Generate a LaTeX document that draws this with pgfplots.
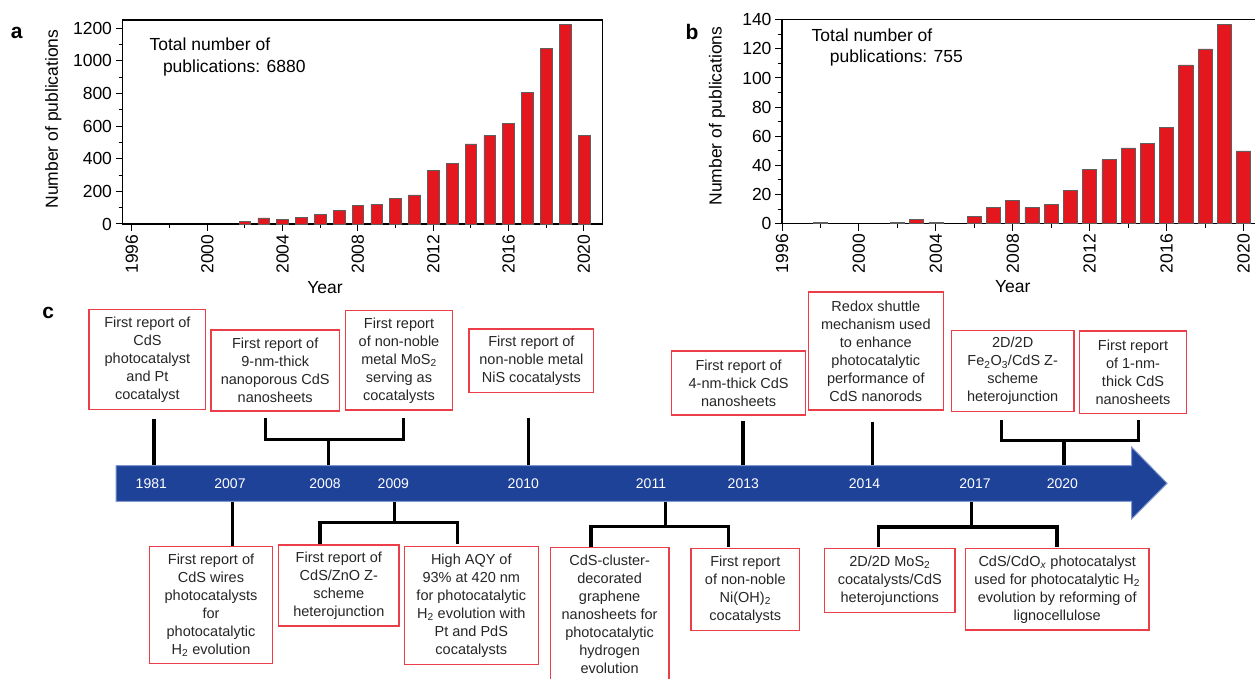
\documentclass[border=0pt]{standalone}
\usepackage{pgfplots}
\pgfplotsset{compat=1.18}
\usepackage{fontspec}
\setmainfont{Liberation Sans}

\definecolor{barred}{RGB}{228,22,30}
\definecolor{baredge}{RGB}{95,95,95}
\definecolor{arrowblue}{RGB}{30,66,152}
\definecolor{arrowedge}{RGB}{125,150,205}
\definecolor{boxred}{RGB}{236,62,72}

\newcommand\tkf{\fontsize{17.5}{20}\selectfont}
\newcommand\bxf{\fontsize{14.5}{18}\selectfont}
\newcommand\yrf{\fontsize{14}{16}\selectfont}
\newcommand\plf{\fontsize{21}{24}\selectfont\bfseries}

\pgfplotsset{
  pubaxis/.style={
    scale only axis,
    ymin=0,
    xtick={1996,2000,...,2020}, minor x tick num=1,
    minor y tick num=1,
    tick pos=left, tick align=outside,
    major tick length=7pt, minor tick length=4pt,
    every tick/.style={black, line width=1pt},
    ticklabel style={font=\tkf},
    xticklabel style={rotate=90, anchor=east},
    /pgf/number format/1000 sep={},
    /pgf/number format/assume math mode=true,
    axis line style={line width=1.2pt, black},
    clip=false,
  },
  pubbars/.style={ybar, bar shift=0pt, fill=barred, draw=baredge, line width=0.6pt},
}

\begin{document}
\begin{tikzpicture}
\path[use as bounding box] (0,0) rectangle (1255pt,678pt);

% ---------------- panel a ----------------
\begin{axis}[pubaxis,
  at={(122.5pt,658pt)}, anchor=north west, width=480.3pt, height=204pt,
  xmin=1995.5, xmax=2021, ymax=1250,
  ytick={0,200,...,1200}]
\addplot[pubbars, bar width=0.62] coordinates {
 (2002,18) (2003,37) (2004,27) (2005,41) (2006,61) (2007,82) (2008,115)
 (2009,121) (2010,156) (2011,178) (2012,330) (2013,373) (2014,491)
 (2015,543) (2016,618) (2017,807) (2018,1077) (2019,1225) (2020,545)};
\end{axis}

% ---------------- panel b ----------------
\begin{axis}[pubaxis,
  at={(782pt,658.3pt)}, anchor=north west, width=473pt, height=204pt,
  axis x line*=bottom, axis y line*=left,
  xmin=1996, xmax=2020.6, ymax=140,
  ytick={0,20,...,140}]
\addplot[pubbars, bar width=0.73] coordinates {
 (1998,1) (2002,1) (2003,3) (2004,1) (2006,5) (2007,11) (2008,16)
 (2009,11) (2010,13) (2011,23) (2012,37) (2013,44) (2014,52)
 (2015,55) (2016,66) (2017,109) (2018,120) (2019,137) (2020,50)};
\draw[line width=1.2pt, black] (rel axis cs:0,1) -- (rel axis cs:1,1);
\end{axis}

% ---------------- overlay (pixel coordinates) ----------------
\begin{axis}[at={(627.5pt,339pt)}, anchor=center, scale only axis,
  width=1255pt, height=678pt, xmin=0, xmax=1255, ymin=0, ymax=678,
  y dir=reverse, hide axis, clip=false]

% panel labels and axis titles
\node[font=\plf] at (axis cs:16.6,33) {a};
\node[font=\plf] at (axis cs:692,32) {b};
\node[font=\plf] at (axis cs:48.3,313) {c};

\node[font=\tkf, rotate=90] at (axis cs:53.4,119) {Number of publications};
\node[font=\tkf, rotate=90] at (axis cs:717,116) {Number of publications};
\node[font=\tkf] at (axis cs:325,288) {Year};
\node[font=\tkf] at (axis cs:1012.7,287) {Year};

\node[font=\tkf, anchor=base west, inner sep=0pt] at (axis cs:149.4,50.7) {Total number of};
\node[font=\tkf, anchor=base west, inner sep=0pt] at (axis cs:162.8,72.5) {publications: 6880};
\node[font=\tkf, anchor=base west, inner sep=0pt] at (axis cs:811.5,41) {Total number of};
\node[font=\tkf, anchor=base west, inner sep=0pt] at (axis cs:829.7,62.7) {publications: 755};

% connectors
\begin{scope}[line width=3.3pt, black]
\draw (axis cs:154,419) -- (axis cs:154,468);
\draw (axis cs:265.7,418) -- (axis cs:265.7,439.3) -- (axis cs:403.3,439.3) -- (axis cs:403.3,418);
\draw (axis cs:328.7,439.3) -- (axis cs:328.7,468);
\draw (axis cs:528.3,417.7) -- (axis cs:528.3,468);
\draw (axis cs:742.9,420.7) -- (axis cs:742.9,468);
\draw (axis cs:872.7,421.7) -- (axis cs:872.7,465);
\draw (axis cs:1001.2,420) -- (axis cs:1001.2,440.7) -- (axis cs:1138.8,440.7) -- (axis cs:1138.8,420);
\draw (axis cs:1064,440.7) -- (axis cs:1064,468);
\draw (axis cs:232.3,499) -- (axis cs:232.3,546);
\draw (axis cs:394.3,499) -- (axis cs:394.3,522.7);
\draw (axis cs:320,544.3) -- (axis cs:320,522.7) -- (axis cs:457.7,522.7) -- (axis cs:457.7,544.3);
\draw (axis cs:665.3,499) -- (axis cs:665.3,526.7);
\draw (axis cs:591,546.7) -- (axis cs:591,526.7) -- (axis cs:728.6,526.7) -- (axis cs:728.6,546.7);
\draw (axis cs:971.8,499) -- (axis cs:971.8,527);
\draw (axis cs:878.8,547) -- (axis cs:878.8,527) -- (axis cs:1057.1,527) -- (axis cs:1057.1,547);
\end{scope}

% arrow
\fill[arrowblue, draw=arrowedge, line width=1pt]
  (axis cs:116,465.5) -- (axis cs:1131.5,465.5) -- (axis cs:1131.5,447) -- (axis cs:1167,483.3)
  -- (axis cs:1131.5,519) -- (axis cs:1131.5,501.3) -- (axis cs:116,501.3) -- cycle;
\begin{scope}[every node/.style={font=\yrf, text=white}]
\node at (axis cs:151.3,483.5) {1981};
\node at (axis cs:230,483.5) {2007};
\node at (axis cs:325,483.5) {2008};
\node at (axis cs:393.3,483.5) {2009};
\node at (axis cs:523.3,483.5) {2010};
\node at (axis cs:651,483.5) {2011};
\node at (axis cs:743.3,483.5) {2013};
\node at (axis cs:864.5,483.5) {2014};
\node at (axis cs:975,483.5) {2017};
\node at (axis cs:1062.4,483.5) {2020};
\end{scope}

% boxes
\begin{scope}[boxred, line width=1.3pt]
\filldraw[fill=white] (axis cs:89,309.5) rectangle (axis cs:205.7,409.3);
\filldraw[fill=white] (axis cs:211,330) rectangle (axis cs:339.3,411);
\filldraw[fill=white] (axis cs:345.7,310.7) rectangle (axis cs:452.3,410);
\filldraw[fill=white] (axis cs:469,329) rectangle (axis cs:593.7,392.3);
\filldraw[fill=white] (axis cs:671.8,351) rectangle (axis cs:805.3,415);
\filldraw[fill=white] (axis cs:808.2,292) rectangle (axis cs:943.3,410);
\filldraw[fill=white] (axis cs:951.4,330.7) rectangle (axis cs:1073.9,411.7);
\filldraw[fill=white] (axis cs:1079.3,331) rectangle (axis cs:1186.7,413.3);
\filldraw[fill=white] (axis cs:149.3,546.7) rectangle (axis cs:272.7,663.3);
\filldraw[fill=white] (axis cs:278.7,545) rectangle (axis cs:399,626);
\filldraw[fill=white] (axis cs:404.3,546.7) rectangle (axis cs:538.3,664.3);
\filldraw[fill=white] (axis cs:550.2,547.3) rectangle (axis cs:669,700);
\filldraw[fill=white] (axis cs:691,548.7) rectangle (axis cs:799.6,630.3);
\filldraw[fill=white] (axis cs:824.5,548.7) rectangle (axis cs:955.1,612.3);
\filldraw[fill=white] (axis cs:965.3,548.7) rectangle (axis cs:1149,630);
\end{scope}

\begin{scope}[every node/.style={font=\bxf, align=center, inner sep=0pt, text=black!85}]
\node at (axis cs:147.4,359.4) {First report of\\CdS\\photocatalyst\\and Pt\\cocatalyst};
\node at (axis cs:275.2,370.5) {First report of\\9-nm-thick\\nanoporous CdS\\nanosheets};
\node at (axis cs:399,360.4) {First report\\of non-noble\\metal MoS\textsubscript{2}\\serving as\\cocatalysts};
\node at (axis cs:531.4,360.7) {First report of\\non-noble metal\\NiS cocatalysts};
\node at (axis cs:738.6,383) {First report of\\4-nm-thick CdS\\nanosheets};
\node at (axis cs:875.8,351.3) {Redox shuttle\\mechanism used\\to enhance\\photocatalytic\\performance of\\CdS nanorods};
\node at (axis cs:1012.7,371.2) {2D/2D\\Fe\textsubscript{2}O\textsubscript{3}/CdS Z-\\scheme\\heterojunction};
\node at (axis cs:1133,372.2) {First report\\of 1-nm-\\thick CdS\\nanosheets};
\node at (axis cs:211,605) {First report of\\CdS wires\\photocatalysts\\for\\photocatalytic\\H\textsubscript{2} evolution};
\node at (axis cs:338.8,585.5) {First report of\\CdS/ZnO Z-\\scheme\\heterojunction};
\node at (axis cs:471.3,605.5) {High AQY of\\93\% at 420 nm\\for photocatalytic\\H\textsubscript{2} evolution with\\Pt and PdS\\cocatalysts};
\node at (axis cs:609.6,614.3) {CdS-cluster-\\decorated\\graphene\\nanosheets for\\photocatalytic\\hydrogen\\evolution};
\node at (axis cs:745.3,589.5) {First report\\of non-noble\\Ni(OH)\textsubscript{2}\\cocatalysts};
\node at (axis cs:889.8,580.5) {2D/2D MoS\textsubscript{2}\\cocatalysts/CdS\\heterojunctions};
\node at (axis cs:1057.2,589.4) {CdS/CdO\textsubscript{\textit{x}} photocatalyst\\used for photocatalytic H\textsubscript{2}\\evolution by reforming of\\lignocellulose};
\end{scope}
\end{axis}
\end{tikzpicture}
\end{document}
